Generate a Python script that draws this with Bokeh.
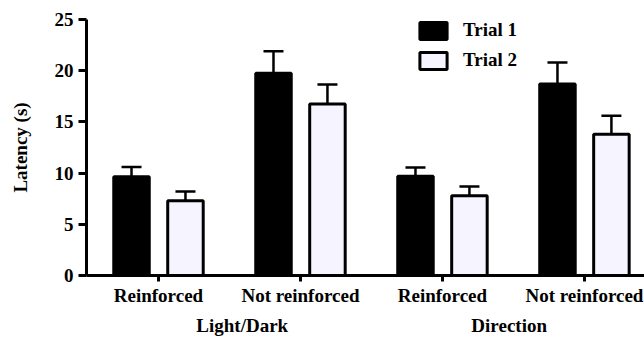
from bokeh.plotting import figure
from bokeh.models import (ColumnDataSource, Whisker, TeeHead, FixedTicker, Legend, LegendItem,
                          LinearAxis)
from bokeh.embed import file_html
from bokeh.resources import INLINE

# ---- data ----
categories = ["Reinforced", "Not reinforced", "Reinforced", "Not reinforced"]
groups = ["Light/Dark", "Direction"]
series = ["Trial 1", "Trial 2"]
trial1 = [9.65, 19.75, 9.7, 18.7]
trial1_sem = [0.95, 2.15, 0.85, 2.1]
trial2 = [7.3, 16.75, 7.8, 13.8]
trial2_sem = [0.9, 1.9, 0.9, 1.8]
y_ticks = [0, 5, 10, 15, 20, 25]

FONT = "Liberation Serif"
LAV = "#f6f4fe"

xs = list(range(len(categories)))
off = 0.19
bw = 0.25

p = figure(width=644, height=338, output_backend="svg", toolbar_location=None,
           x_range=(-0.507, 3.423), y_range=(0, 25),
           min_border_left=86, min_border_right=0, min_border_top=19, min_border_bottom=63)

s1 = ColumnDataSource(dict(x=[x - off for x in xs], top=trial1,
                           upper=[t + e for t, e in zip(trial1, trial1_sem)]))
s2 = ColumnDataSource(dict(x=[x + off for x in xs], top=trial2,
                           upper=[t + e for t, e in zip(trial2, trial2_sem)]))

for src in (s1, s2):
    w = Whisker(source=src, base="x", lower="top", upper="upper", line_width=2.5, line_color="black",
                upper_head=TeeHead(size=20, line_width=2.5, line_color="black"), lower_head=None)
    p.add_layout(w)

r1 = p.vbar(x="x", top="top", width=bw, source=s1, fill_color="black", line_color="black", line_width=3)
r2 = p.vbar(x="x", top="top", width=bw, source=s2, fill_color=LAV, line_color="black", line_width=3)

legend = Legend(items=[LegendItem(label=series[0], renderers=[r1]),
                       LegendItem(label=series[1], renderers=[r2])],
                location=(330, 204), glyph_width=34, glyph_height=21, label_height=21,
                spacing=8, padding=0, margin=0, label_standoff=13,
                border_line_color=None, background_fill_alpha=0,
                label_text_font=FONT, label_text_font_style="bold", label_text_font_size="19px",
                label_text_color="black")
p.add_layout(legend, "center")

p.grid.visible = False
p.outline_line_color = None


def style_axis(ax, tick_out=7):
    ax.axis_line_width = 3
    ax.axis_line_color = "black"
    ax.major_tick_line_width = 3
    ax.major_tick_line_color = "black"
    ax.major_tick_out = tick_out
    ax.major_tick_in = 0
    ax.minor_tick_line_color = None
    ax.major_label_text_font = FONT
    ax.major_label_text_font_style = "bold"
    ax.major_label_text_font_size = "19px"
    ax.major_label_text_color = "black"


style_axis(p.xaxis[0], tick_out=6)
style_axis(p.yaxis[0], tick_out=8)

p.xaxis[0].ticker = FixedTicker(ticks=xs)
p.xaxis[0].major_label_overrides = {i: c for i, c in enumerate(categories)}
p.xaxis[0].major_label_standoff = 3

p.yaxis.ticker = FixedTicker(ticks=y_ticks)
p.yaxis.major_label_standoff = 5
p.yaxis.axis_label = "Latency (s)"
p.yaxis.axis_label_text_font = FONT
p.yaxis.axis_label_text_font_style = "bold"
p.yaxis.axis_label_text_font_size = "19px"
p.yaxis.axis_label_text_color = "black"
p.yaxis.axis_label_standoff = 21

# group labels as a second (line-less) axis below
group_pos = [0.59, 2.47]
gax = LinearAxis(ticker=FixedTicker(ticks=group_pos),
                 major_label_overrides={gp: g for gp, g in zip(group_pos, groups)})
style_axis(gax, tick_out=0)
gax.axis_line_color = None
gax.major_tick_line_color = None
gax.major_label_standoff = 6
p.add_layout(gax, "below")

open("out.html", "w").write(file_html(p, INLINE))
